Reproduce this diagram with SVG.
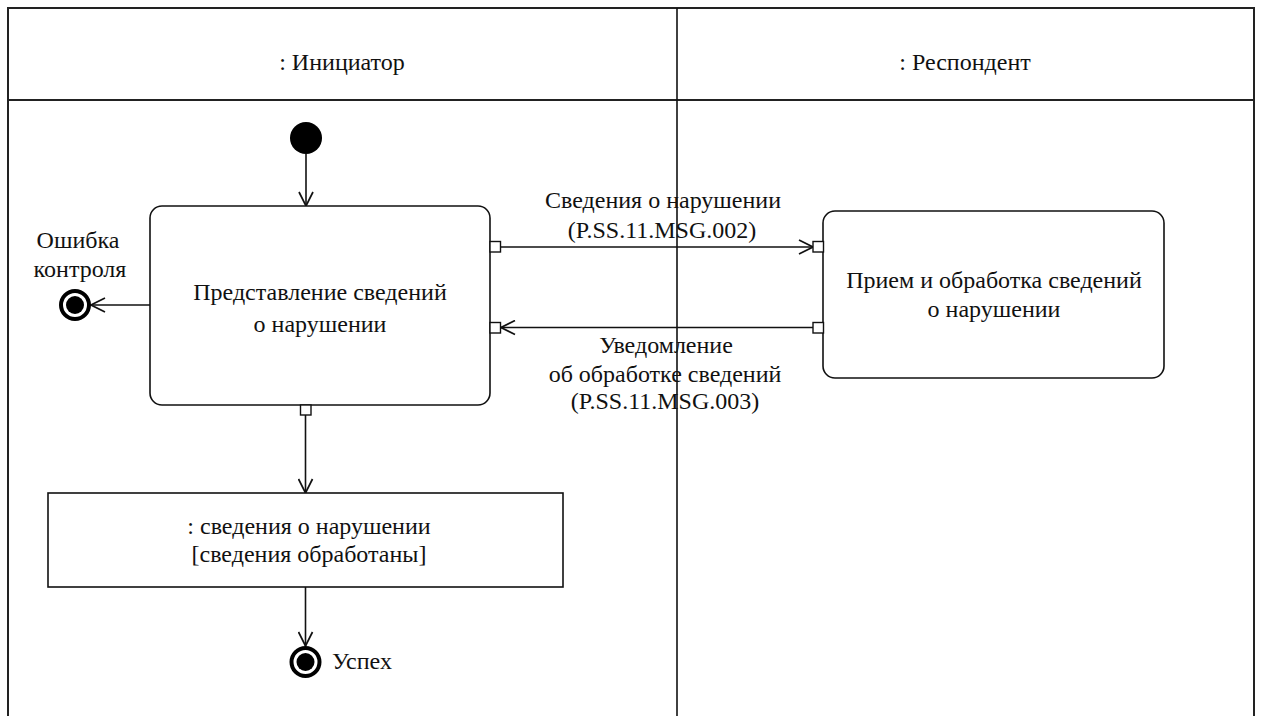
<svg xmlns="http://www.w3.org/2000/svg" width="1261" height="716" viewBox="0 0 1261 716">
<defs>
<style>
text{font-family:"Liberation Serif","Times New Roman","DejaVu Serif",serif;font-size:24px;fill:#111;text-anchor:middle}
.ln{stroke:#111;stroke-width:1.6;fill:none}
.frame{stroke:#222;stroke-width:2;fill:none}
.box{stroke:#111;stroke-width:1.6;fill:#fff}
.port{stroke:#111;stroke-width:1.4;fill:#fff}
</style>
<marker id="arr" viewBox="0 0 16 16" refX="15" refY="8" markerWidth="16" markerHeight="16" markerUnits="userSpaceOnUse" orient="auto">
<path d="M1,1 L15,8 L1,15" fill="none" stroke="#111" stroke-width="1.7"/>
</marker>
</defs>
<rect width="1261" height="716" fill="#fff"/>
<g id="lanes">
<path class="frame" d="M8,716 V8 H1254 V716 M8,100 H1254"/>
<path class="ln" d="M677,8 V716"/>
<text x="342" y="70">: Инициатор</text>
<text x="965" y="70">: Респондент</text>
</g>
<g id="connectors">
<line class="ln" x1="306" y1="154" x2="306" y2="206" marker-end="url(#arr)"/>
<line class="ln" x1="150" y1="305" x2="91" y2="305" marker-end="url(#arr)"/>
<line class="ln" x1="501" y1="247" x2="813" y2="247" marker-end="url(#arr)"/>
<line class="ln" x1="813" y1="327.5" x2="501" y2="327.5" marker-end="url(#arr)"/>
<line class="ln" x1="305.5" y1="415" x2="305.5" y2="493" marker-end="url(#arr)"/>
<line class="ln" x1="305.5" y1="587" x2="305.5" y2="646" marker-end="url(#arr)"/>
<text x="663" y="208">Сведения о нарушении</text>
<text x="662" y="238">(P.SS.11.MSG.002)</text>
<text x="666" y="353">Уведомление</text>
<text x="665" y="382">об обработке сведений</text>
<text x="665" y="409">(P.SS.11.MSG.003)</text>
</g>
<g id="start"><circle cx="306" cy="138" r="16" fill="#000"/></g>
<g id="act1">
<rect class="box" x="150" y="206" width="340" height="199" rx="12"/>
<text x="320" y="300">Представление сведений</text>
<text x="320" y="332">о нарушении</text>
<rect class="port" x="490" y="241.5" width="10.5" height="10.5"/>
<rect class="port" x="490" y="322.5" width="10.5" height="10.5"/>
<rect class="port" x="300.5" y="405" width="10.5" height="10"/>
</g>
<g id="act2">
<rect class="box" x="823" y="211" width="341" height="167" rx="12"/>
<text x="994" y="288">Прием и обработка сведений</text>
<text x="994" y="317">о нарушении</text>
<rect class="port" x="813" y="241.5" width="10.5" height="10.5"/>
<rect class="port" x="813" y="322.5" width="10.5" height="10.5"/>
</g>
<g id="err">
<circle cx="75" cy="305" r="14" fill="#fff" stroke="#000" stroke-width="4"/>
<circle cx="75" cy="305" r="9" fill="#000"/>
<text x="78" y="248">Ошибка</text>
<text x="80" y="277">контроля</text>
</g>
<g id="obj">
<rect class="box" x="48" y="493" width="515" height="94"/>
<text x="309" y="534">: сведения о нарушении</text>
<text x="309" y="562">[сведения обработаны]</text>
</g>
<g id="end">
<circle cx="305.5" cy="662" r="14" fill="#fff" stroke="#000" stroke-width="4"/>
<circle cx="305.5" cy="662" r="9" fill="#000"/>
<text x="332" y="669" style="text-anchor:start">Успех</text>
</g>
</svg>
